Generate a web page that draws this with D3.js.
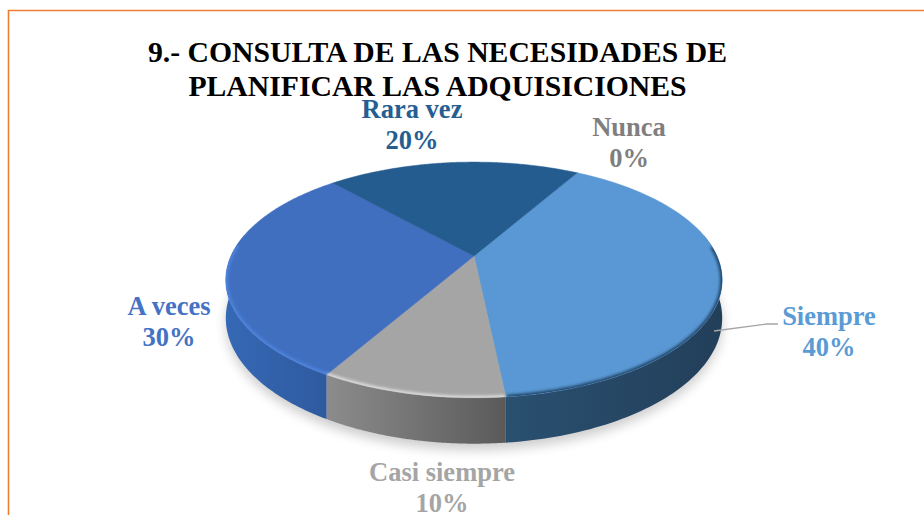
<!DOCTYPE html>
<html><head><meta charset="utf-8">
<script src="https://cdn.jsdelivr.net/npm/d3@7"></script>
<style>html,body{margin:0;padding:0;background:#fff;overflow:hidden}svg{display:block}text{font-family:"Liberation Serif",serif;font-weight:700}</style>
</head><body><svg id="c" width="924" height="515"></svg>
<script>
const categories=["Siempre","Casi siempre","A veces","Rara vez","Nunca"];
const percents=[40,10,30,20,0];
const titleLines=["9.- CONSULTA DE LAS NECESIDADES DE","PLANIFICAR LAS ADQUISICIONES"];

const topColors=["#5a98d5","#a5a5a5","#416fc0","#255c90","#7f7f7f"];
const textColors=["#5b9bd5","#a5a5a5","#4472c4","#255e91","#7f7f7f"];
const wallFrom=["#2a5070","#8c8c8c","#3568b5","#255c90","#7f7f7f"];
const wallTo=["#223f5a","#5a5a5a","#2f5a9f","#255c90","#7f7f7f"];
const rimColors=["#1f3f60","#e0e0e0","#4d86e0","#255c90","#7f7f7f"];
const labelPos=[[829,325],[442,481],[169,315],[412,118],[629,136]];

const svg=d3.select("#c");
const defs=svg.append("defs");
const cx=474,cy=256,A=113,B=243,q=0.2034,depth=36.5;
const project=(a,h)=>{
  const X=Math.sin(a),Y=-Math.cos(a),w=1/(1-q*Y);
  return [cx+B*X*w, cy+A*Y*w+h*w];
};
const centre=[cx,cy];
const pie=d3.pie().sort(null).value(d=>d).startAngle(30*Math.PI/180).endAngle(390*Math.PI/180);
const arcs=pie(percents);
const line=d3.line();
const sample=(a0,a1)=>d3.range(0,121).map(i=>a0+(a1-a0)*i/120);
const disc=line(sample(0,2*Math.PI).map(a=>project(a,0)))+"Z";

// Frame
svg.append("path").attr("d",d3.line()([[924,10.5],[8.5,10.5],[8.5,515]])).attr("fill","none").attr("stroke","#ed7d31").attr("stroke-width",1.6);

defs.append("filter").attr("id","sh").attr("x","-20%").attr("y","-20%").attr("width","140%").attr("height","140%")
  .append("feGaussianBlur").attr("stdDeviation",6);
defs.append("filter").attr("id","rim").attr("x","-20%").attr("y","-20%").attr("width","140%").attr("height","140%")
  .append("feGaussianBlur").attr("stdDeviation",1.5);
defs.append("clipPath").attr("id","discClip").append("path").attr("d",disc);

// Shadow beneath the disc
svg.append("path").attr("fill","#000").attr("opacity",0.2).attr("filter","url(#sh)")
  .attr("d",line(sample(0,2*Math.PI).map(a=>project(a,depth+5)))+"Z");

// Walls
arcs.forEach((d,i)=>{
  if(d.endAngle-d.startAngle<=0)return;
  const t=sample(d.startAngle,d.endAngle);
  const front=t.filter(a=>Math.cos(a)<0.2);
  if(!front.length)return;
  const up=front.map(a=>project(a,0)),dn=front.map(a=>project(a,depth)).reverse();
  const xs=up.map(p=>p[0]);
  const id="w"+i;
  const g=defs.append("linearGradient").attr("id",id).attr("gradientUnits","userSpaceOnUse")
    .attr("x1",d3.min(xs)).attr("x2",d3.max(xs)).attr("y1",0).attr("y2",0);
  g.append("stop").attr("offset",0).attr("stop-color",wallFrom[i]);
  g.append("stop").attr("offset",1).attr("stop-color",wallTo[i]);
  svg.append("path").attr("d",line(up.concat(dn))+"Z").attr("fill",`url(#${id})`);
});

// Top faces
arcs.forEach((d,i)=>{
  if(d.endAngle-d.startAngle<=0)return;
  const pts=[centre].concat(sample(d.startAngle,d.endAngle).map(a=>project(a,0)));
  const path=line(pts)+"Z";
  svg.append("path").attr("d",path).attr("fill",topColors[i]).attr("stroke",topColors[i]).attr("stroke-width",0.5);
});

// Bevel along the front rim, kept inside the top face
const rimGroup=svg.append("g").attr("clip-path","url(#discClip)");
arcs.forEach((d,i)=>{
  if(d.endAngle-d.startAngle<=0)return;
  const front=sample(d.startAngle,d.endAngle).filter(a=>Math.cos(a)<0.1);
  if(!front.length)return;
  rimGroup.append("path").attr("d",line(front.map(a=>project(a,0))))
    .attr("fill","none").attr("stroke",rimColors[i]).attr("stroke-width",4).attr("filter","url(#rim)");
});

// Leader line
svg.append("path").attr("d",d3.line()([[714,331],[767,324],[778,324]])).attr("fill","none").attr("stroke","#a5a5a5").attr("stroke-width",1.4);

// Title
const titleBase=[62,96];
titleLines.forEach((s,i)=>svg.append("text").attr("x",437.5).attr("y",titleBase[i]).attr("text-anchor","middle")
  .attr("font-size",29.7).attr("fill","#000").text(s));

// Labels
categories.forEach((c,i)=>{
  const t=svg.append("text").attr("text-anchor","middle").attr("font-size",26.5).attr("fill",textColors[i]);
  t.append("tspan").attr("x",labelPos[i][0]).attr("y",labelPos[i][1]).text(c);
  t.append("tspan").attr("x",labelPos[i][0]).attr("y",labelPos[i][1]+31).text(percents[i]+"%");
});
</script></body></html>
